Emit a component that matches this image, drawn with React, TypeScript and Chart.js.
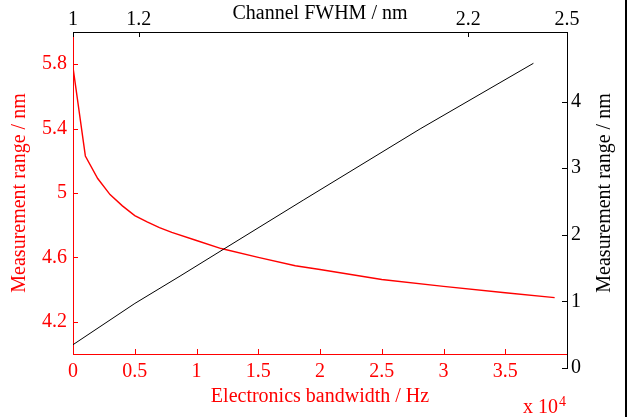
import React, { useEffect, useRef } from "react";
import { Chart, registerables } from "chart.js";
Chart.register(...registerables);

// Red series: electronics bandwidth (x 10^4 Hz) vs measurement range (nm)
const BANDWIDTH_E4 = [0, 0.1, 0.2, 0.3, 0.4, 0.5, 0.6, 0.7, 0.8, 1.0, 1.2, 1.5, 1.8, 2.0, 2.5, 3.0, 3.5, 3.9];
const RANGE_RED = [5.78, 5.23, 5.09, 4.99, 4.92, 4.86, 4.82, 4.785, 4.755, 4.705, 4.655, 4.6, 4.548, 4.525, 4.463, 4.42, 4.38, 4.35];
// Black series: channel FWHM (nm) vs measurement range (nm)
const FWHM = [1.0, 1.188, 1.325, 1.456, 1.699, 2.054, 2.398];
const RANGE_BLACK = [0.35, 0.97, 1.38, 1.78, 2.52, 3.59, 4.575];

const X_BOTTOM_TICKS = [0, 0.5, 1, 1.5, 2, 2.5, 3, 3.5];
const Y_LEFT_TICKS = [4.2, 4.6, 5, 5.4, 5.8];
const X_TOP_TICKS = [1, 1.2, 2.2, 2.5];
const Y_RIGHT_TICKS = [0, 1, 2, 3, 4];

const FONT_FAMILY = '"Liberation Serif", "Times New Roman", serif';
const FS = 20;
const RED = "#ff0000";
const BLACK = "#000000";

type TickSpec = { id: string; side: "left" | "right" | "top" | "bottom"; color: string };

function inwardTicks(specs: TickSpec[]) {
  return {
    id: "inwardTicks",
    afterDraw(chart: any) {
      const ctx = chart.ctx;
      const len = 5;
      for (const s of specs) {
        const scale = chart.scales[s.id];
        if (!scale) continue;
        const ca = chart.chartArea;
        ctx.save();
        ctx.strokeStyle = s.color;
        ctx.lineWidth = 1;
        ctx.beginPath();
        for (const t of scale.ticks) {
          const p = Math.round(scale.getPixelForValue(t.value)) + 0.5;
          if (s.side === "left") {
            ctx.moveTo(ca.left, p);
            ctx.lineTo(ca.left + len, p);
          } else if (s.side === "right") {
            ctx.moveTo(ca.right, p);
            ctx.lineTo(ca.right - len, p);
          } else if (s.side === "top") {
            ctx.moveTo(p, ca.top);
            ctx.lineTo(p, ca.top + len);
          } else {
            ctx.moveTo(p, ca.bottom);
            ctx.lineTo(p, ca.bottom - len);
          }
        }
        ctx.stroke();
        ctx.restore();
      }
    },
  };
}

const exponentLabel = {
  id: "exponentLabel",
  afterDraw(chart: any) {
    const ctx = chart.ctx;
    ctx.save();
    ctx.fillStyle = RED;
    ctx.textBaseline = "alphabetic";
    ctx.textAlign = "left";
    ctx.font = `${FS}px ${FONT_FAMILY}`;
    const base = "x 10";
    ctx.fillText(base, 523, 413);
    const w = ctx.measureText(base).width;
    ctx.font = `${14}px ${FONT_FAMILY}`;
    ctx.fillText("4", 523 + w + 1, 406);
    ctx.restore();
  },
};

const rightDecor = {
  id: "rightDecor",
  afterDraw(chart: any) {
    const ctx = chart.ctx;
    ctx.save();
    ctx.fillStyle = BLACK;
    ctx.font = `${FS}px ${FONT_FAMILY}`;
    ctx.textAlign = "center";
    ctx.textBaseline = "middle";
    ctx.translate(605, 193);
    ctx.rotate(-Math.PI / 2);
    ctx.fillText("Measurement range / nm", 0, 0);
    ctx.restore();
    ctx.save();
    ctx.fillStyle = BLACK;
    ctx.fillRect(625, 0, 2, 417);
    ctx.restore();
  },
};

const font = { family: FONT_FAMILY, size: FS };

export default function App() {
  const redRef = useRef<HTMLCanvasElement | null>(null);
  const blackRef = useRef<HTMLCanvasElement | null>(null);

  useEffect(() => {
    const redChart = new Chart(redRef.current as HTMLCanvasElement, {
      type: "line",
      data: {
        datasets: [
          {
            data: BANDWIDTH_E4.map((x, i) => ({ x, y: RANGE_RED[i] })),
            borderColor: RED,
            borderWidth: 1.4,
            pointRadius: 0,
            tension: 0,
            fill: false,
          },
        ],
      },
      options: {
        responsive: false,
        animation: false,
        devicePixelRatio: 1,
        layout: { padding: { left: 0, right: 60, top: 32, bottom: 0 } },
        plugins: { legend: { display: false }, tooltip: { enabled: false } },
        scales: {
          x: {
            type: "linear",
            position: "bottom",
            min: 0,
            max: 4,
            afterFit: (s: any) => {
              s.height = 63;
            },
            afterBuildTicks: (s: any) => {
              s.ticks = X_BOTTOM_TICKS.map((v) => ({ value: v }));
            },
            ticks: {
              color: RED,
              font,
              padding: 6,
              maxRotation: 0,
              autoSkip: false,
              callback: (v: any) => String(v),
            },
            grid: { display: false, drawTicks: false, tickLength: 0 },
            border: { display: true, color: RED, width: 1 },
            title: {
              display: true,
              text: "Electronics bandwidth / Hz",
              color: RED,
              font,
              padding: { top: 0, bottom: 8 },
            },
          },
          y: {
            type: "linear",
            position: "left",
            min: 4,
            max: 6,
            afterFit: (s: any) => {
              s.width = 73;
            },
            afterBuildTicks: (s: any) => {
              s.ticks = Y_LEFT_TICKS.map((v) => ({ value: v }));
            },
            ticks: {
              color: RED,
              font,
              padding: 6,
              autoSkip: false,
              callback: (v: any) => String(v),
            },
            grid: { display: false, drawTicks: false, tickLength: 0 },
            border: { display: true, color: RED, width: 1 },
            title: {
              display: true,
              text: "Measurement range / nm",
              color: RED,
              font,
              padding: { top: 8, bottom: 0 },
            },
          },
        },
      },
      plugins: [
        inwardTicks([
          { id: "x", side: "bottom", color: RED },
          { id: "y", side: "left", color: RED },
        ]),
        exponentLabel,
      ],
    } as any);

    const blackChart = new Chart(blackRef.current as HTMLCanvasElement, {
      type: "line",
      data: {
        datasets: [
          {
            data: FWHM.map((x, i) => ({ x, y: RANGE_BLACK[i] })),
            xAxisID: "xTop",
            yAxisID: "yRight",
            borderColor: BLACK,
            borderWidth: 1,
            pointRadius: 0,
            tension: 0,
            fill: false,
          },
        ],
      },
      options: {
        responsive: false,
        animation: false,
        devicePixelRatio: 1,
        layout: { padding: { left: 73, right: 0, top: 0, bottom: 49 } },
        plugins: { legend: { display: false }, tooltip: { enabled: false } },
        scales: {
          xTop: {
            type: "linear",
            position: "top",
            min: 1,
            max: 2.5,
            afterFit: (s: any) => {
              s.height = 32;
            },
            afterBuildTicks: (s: any) => {
              s.ticks = X_TOP_TICKS.map((v) => ({ value: v }));
            },
            ticks: {
              color: BLACK,
              font,
              padding: 0,
              maxRotation: 0,
              autoSkip: false,
              callback: (v: any) => String(v),
            },
            grid: { display: false, drawTicks: false, tickLength: 0 },
            border: { display: true, color: BLACK, width: 1 },
            title: {
              display: true,
              text: "Channel FWHM / nm",
              color: BLACK,
              font,
              padding: { top: 2, bottom: 0 },
            },
          },
          yRight: {
            type: "linear",
            position: "right",
            min: 0,
            max: 5.045,
            afterFit: (s: any) => {
              s.width = 60;
            },
            afterBuildTicks: (s: any) => {
              s.ticks = Y_RIGHT_TICKS.map((v) => ({ value: v }));
            },
            ticks: {
              color: BLACK,
              font,
              padding: 4,
              autoSkip: false,
              callback: (v: any) => String(v),
            },
            grid: { display: false, drawTicks: false, tickLength: 0 },
            border: { display: true, color: BLACK, width: 1 },
          },
        },
      },
      plugins: [
        inwardTicks([
          { id: "xTop", side: "top", color: BLACK },
          { id: "yRight", side: "right", color: BLACK },
        ]),
        rightDecor,
      ],
    } as any);

    return () => {
      redChart.destroy();
      blackChart.destroy();
    };
  }, []);

  const canvasStyle: React.CSSProperties = {
    position: "absolute",
    left: 0,
    top: 0,
    width: 627,
    height: 417,
  };

  return (
    <div
      style={{
        position: "fixed",
        left: 0,
        top: 0,
        width: 627,
        height: 417,
        background: "#ffffff",
      }}
    >
      <canvas ref={redRef} width={627} height={417} style={canvasStyle} />
      <canvas ref={blackRef} width={627} height={417} style={canvasStyle} />
    </div>
  );
}
